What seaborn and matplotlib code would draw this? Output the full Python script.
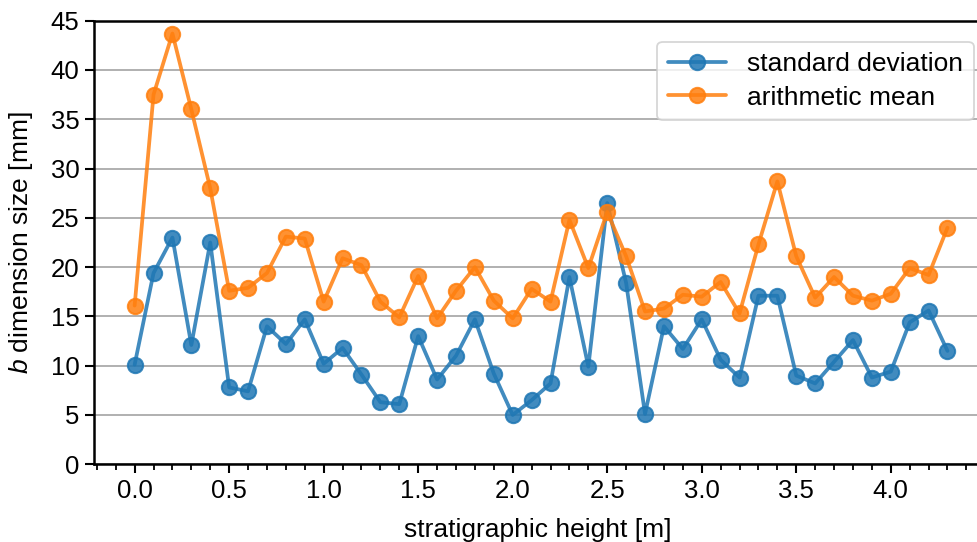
import numpy as np
import pandas as pd
import matplotlib
matplotlib.use("Agg")
import matplotlib.pyplot as plt
from matplotlib.ticker import MultipleLocator, FormatStrFormatter
import seaborn as sns

# stratigraphic heights [m]
height = [round(0.1 * i, 1) for i in range(44)]

# standard deviation of b dimension [mm]
std_dev = [10.1, 19.4, 23.0, 12.1, 22.5, 7.8, 7.4, 14.0, 12.2, 14.7,
           10.2, 11.8, 9.1, 6.3, 6.1, 13.0, 8.6, 11.0, 14.7, 9.2,
           5.0, 6.5, 8.2, 19.0, 9.9, 26.5, 18.4, 5.1, 14.0, 11.7,
           14.7, 10.6, 8.8, 17.1, 17.1, 9.0, 8.2, 10.4, 12.6, 8.8,
           9.4, 14.4, 15.6, 11.5]

# arithmetic mean of b dimension [mm]
mean = [16.1, 37.5, 43.7, 36.0, 28.0, 17.6, 17.9, 19.4, 23.1, 22.9,
        16.5, 20.9, 20.2, 16.5, 14.9, 19.1, 14.8, 17.6, 20.0, 16.6,
        14.8, 17.8, 16.5, 24.8, 19.9, 25.6, 21.1, 15.5, 15.8, 17.2,
        17.0, 18.5, 15.3, 22.3, 28.7, 21.1, 16.9, 19.0, 17.1, 16.6,
        17.3, 19.9, 19.2, 24.0]

series_names = ["standard deviation", "arithmetic mean"]
y_ticks = list(range(0, 46, 5))

sns.set_style("ticks")
plt.rcParams["font.family"] = ["Liberation Sans", "DejaVu Sans"]
plt.rcParams["mathtext.fontset"] = "custom"
plt.rcParams["mathtext.it"] = "Liberation Sans:italic"
plt.rcParams["mathtext.rm"] = "Liberation Sans"
plt.rcParams["font.size"] = 19
plt.rcParams["text.color"] = "black"
plt.rcParams["axes.labelcolor"] = "black"

df = pd.DataFrame({"height": height, series_names[0]: std_dev, series_names[1]: mean})
long = df.melt(id_vars="height", var_name="series", value_name="value")

fig = plt.figure(figsize=(9.78, 5.42), dpi=100)
ax = fig.add_axes([0.0961, 0.1434, 0.9075, 0.8184])

ax.grid(axis="y", color="#b0b0b0", linewidth=1.4, zorder=0)
ax.set_axisbelow(True)

sns.lineplot(data=long, x="height", y="value", hue="series",
             hue_order=series_names, palette=["tab:blue", "tab:orange"],
             marker="o", markersize=11, linewidth=2.7, alpha=0.85,
             markeredgewidth=1.5, ax=ax)

# markers edged in their own series colour
for line in ax.lines:
    line.set_markeredgecolor(line.get_color())

ax.set_xlim(-0.215, 4.48)
ax.set_ylim(0, 45)
ax.set_yticks(y_ticks)
ax.xaxis.set_major_locator(MultipleLocator(0.5))
ax.xaxis.set_minor_locator(MultipleLocator(0.1))
ax.xaxis.set_major_formatter(FormatStrFormatter("%.1f"))

for s in ax.spines.values():
    s.set_linewidth(1.8)
    s.set_color("black")
ax.tick_params(axis="both", which="major", length=6.5, width=1.5,
               labelsize=18.5, color="black", labelcolor="black", pad=4)
ax.tick_params(axis="x", which="minor", length=4, width=1.3, color="black")

ax.set_xlabel("stratigraphic height [m]", fontsize=19, labelpad=11, color="black")
ax.set_ylabel(r"$\mathit{b}$ dimension size [mm]", fontsize=19, labelpad=11, color="black")

leg = ax.legend(loc="upper right", bbox_to_anchor=(1.006, 0.982),
                fontsize=19, title=None, frameon=True, handlelength=2.2,
                borderpad=0.4, labelspacing=0.35, handletextpad=0.8)
leg.get_frame().set_edgecolor("#cccccc")
leg.get_frame().set_linewidth(1.3)
for t in leg.get_texts():
    t.set_color("black")
for h in leg.get_lines():
    h.set_markeredgecolor(h.get_color())

fig.savefig("out.png", dpi=100)
